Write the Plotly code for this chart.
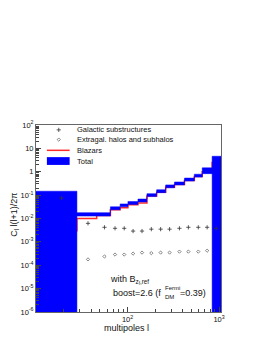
import plotly.graph_objects as go

# ---- data ----
ell_edges = [10, 28, 46, 65, 83, 101, 130, 163, 208, 261, 326, 419, 537, 655, 840, 1050]
total_low = [1e-7, 0.0127, 0.0127, 0.0237, 0.0316, 0.0402, 0.051, 0.0866, 0.127, 0.205, 0.274, 0.402, 0.589, 0.83, 1e-7]
total_high = [0.147, 0.0178, 0.0178, 0.0316, 0.042, 0.0536, 0.068, 0.1155, 0.17, 0.274, 0.365, 0.536, 0.785, 1.47, 4.6]
blazars = [0.003, 0.0100, 0.0133, 0.0237, 0.0287, 0.0383, 0.0464, 0.091, 0.133, 0.215, 0.287, 0.42, 0.62, 1.0, 2.5]
blazars_end = 1.2e-4

gal_ell = [19, 37, 56, 73, 92, 115, 144, 182, 230, 288, 369, 462, 593, 741, 929]
gal_cl = [0.075, 0.0062, 0.0042, 0.0038, 0.0038, 0.0029, 0.0029, 0.0035, 0.0035, 0.0035, 0.0038, 0.0042, 0.0042, 0.0042, 0.0038]
exg_ell = [37, 56, 73, 92, 115, 144, 182, 230, 288, 369, 462, 593, 741]
exg_cl = [1.78e-4, 2.37e-4, 2.87e-4, 2.87e-4, 3.16e-4, 3.48e-4, 3.3e-4, 3.48e-4, 3.48e-4, 3.83e-4, 3.83e-4, 3.83e-4, 4.2e-4]

legend_labels = ["Galactic substructures", "Extragal. halos and subhalos", "Blazars", "Total"]
y_tick_vals = [1e2, 1e1, 1, 1e-1, 1e-2, 1e-3, 1e-4, 1e-5, 1e-6]
y_tick_text = ["10<sup>2</sup>", "10", "1", "10<sup>-1</sup>", "10<sup>-2</sup>", "10<sup>-3</sup>",
               "10<sup>-4</sup>", "10<sup>-5</sup>", "10<sup>-6</sup>"]
x_tick_vals = [100, 1000]
x_tick_text = ["10<sup>2</sup>", "10<sup>3</sup>"]

# ---- layout geometry (target pixels; page body adds an 8px offset) ----
OFF = 8
W, H = 266 - OFF, 344 - 2 * OFF
X0, X1, Y0, Y1 = 34, 221, 125, 317          # plot area in target pixels
PW, PH = X1 - X0, Y1 - Y0
ML, MT = X0 - OFF, Y0 - OFF
MR, MB = W - ML - PW, H - MT - PH
FONT = "Liberation Sans, Arial, sans-serif"
TXT = "#111111"


def px(x):
    return (x - X0) / PW


def py(y):
    return (Y1 - y) / PH


fig = go.Figure()

# Blazars step line
bx = list(ell_edges)
by = list(blazars) + [blazars_end]
fig.add_trace(go.Scatter(x=bx, y=by, mode="lines", line=dict(color="#ff2a2a", width=1.5, shape="hv"),
                         showlegend=False, hoverinfo="skip"))

# Total band as polygon
tx, ty = [], []
for i in range(len(total_high)):
    tx += [ell_edges[i], ell_edges[i + 1]]
    ty += [total_high[i], total_high[i]]
for i in reversed(range(len(total_low))):
    tx += [ell_edges[i + 1], ell_edges[i]]
    ty += [total_low[i], total_low[i]]
fig.add_trace(go.Scatter(x=tx, y=ty, mode="lines", fill="toself", fillcolor="#0000ff",
                         line=dict(color="#0000ff", width=0.5), showlegend=False, hoverinfo="skip"))

# markers
GAL_MK = dict(symbol="cross-thin", size=3, line=dict(color="#333333", width=0.8))
EXG_MK = dict(symbol="diamond-open", size=2.5, color="#555555", line=dict(width=0.7))
fig.add_trace(go.Scatter(x=gal_ell, y=gal_cl, mode="markers", marker=GAL_MK, showlegend=False))
fig.add_trace(go.Scatter(x=exg_ell, y=exg_cl, mode="markers", marker=EXG_MK, showlegend=False))

# manual legend markers on overlay axes
fig.add_trace(go.Scatter(x=[px(57)], y=[py(130)], xaxis="x2", yaxis="y2", mode="markers",
                         marker=GAL_MK, showlegend=False))
fig.add_trace(go.Scatter(x=[px(57)], y=[py(140)], xaxis="x2", yaxis="y2", mode="markers",
                         marker=EXG_MK, showlegend=False))

shapes = [
    dict(type="line", xref="paper", yref="paper", x0=px(45), x1=px(68), y0=py(151), y1=py(151),
         line=dict(color="#ff2a2a", width=1.5)),
    dict(type="rect", xref="paper", yref="paper", x0=px(45), x1=px(68), y0=py(166), y1=py(158),
         fillcolor="#0000ff", line=dict(width=0)),
]

annotations = []
for lab, yy in zip(legend_labels, [130, 140, 151, 162]):
    annotations.append(dict(text=lab, x=px(73), y=py(yy), xref="paper", yref="paper", xanchor="left",
                            yanchor="middle", showarrow=False, font=dict(family=FONT, size=7.5, color=TXT)))

annotations += [
    dict(text="with B<sub>z<sub>f</sub>,ref</sub>", x=px(107), y=py(284), xref="paper", yref="paper",
         xanchor="left", yanchor="middle", showarrow=False, font=dict(family=FONT, size=9, color=TXT)),
    dict(text="boost=2.6 (f", x=px(162), y=py(297), xref="paper", yref="paper",
         xanchor="right", yanchor="middle", showarrow=False, font=dict(family=FONT, size=9, color=TXT)),
    dict(text="Fermi", x=px(162.5), y=py(292), xref="paper", yref="paper",
         xanchor="left", yanchor="middle", showarrow=False, font=dict(family=FONT, size=6, color=TXT)),
    dict(text="DM", x=px(162.5), y=py(302), xref="paper", yref="paper",
         xanchor="left", yanchor="middle", showarrow=False, font=dict(family=FONT, size=6, color=TXT)),
    dict(text="=0.39)", x=px(178), y=py(297), xref="paper", yref="paper",
         xanchor="left", yanchor="middle", showarrow=False, font=dict(family=FONT, size=9, color=TXT)),
    dict(text="multipoles l", x=px(125), y=py(333), xref="paper", yref="paper",
         xanchor="center", yanchor="middle", showarrow=False, font=dict(family=FONT, size=9, color=TXT)),
    dict(text="C<sub>l</sub> l(l+1)/2π", x=px(12), y=py(217), xref="paper", yref="paper",
         xanchor="center", yanchor="middle", textangle=-90, showarrow=False,
         font=dict(family=FONT, size=9, color=TXT)),
]

x_minor = [m * 10 ** k for k in (1, 2) for m in range(2, 10)]
y_minor = [m * 10.0 ** k for k in range(-6, 2) for m in range(2, 10)]

fig.update_layout(
    width=W, height=H,
    margin=dict(l=ML, r=MR, t=MT, b=MB, pad=0),
    paper_bgcolor="white", plot_bgcolor="white",
    showlegend=False,
    font=dict(family=FONT, size=7.5, color=TXT),
    xaxis=dict(type="log", range=[1, 3.0212], tickmode="array", tickvals=x_tick_vals, ticktext=x_tick_text,
               ticks="inside", ticklen=5, tickcolor="#444", showgrid=False, zeroline=False,
               showline=True, linecolor="#666", linewidth=1, mirror=True,
               tickfont=dict(family=FONT, size=7.5, color=TXT),
               minor=dict(tickmode="array", tickvals=x_minor, ticks="inside", ticklen=3, tickcolor="#444",
                          showgrid=False)),
    yaxis=dict(type="log", range=[-6, 2], tickmode="array", tickvals=y_tick_vals, ticktext=y_tick_text,
               ticks="inside", ticklen=5, tickcolor="#444", showgrid=False, zeroline=False,
               showline=True, linecolor="#666", linewidth=1, mirror=True,
               tickfont=dict(family=FONT, size=7.5, color=TXT),
               minor=dict(tickmode="array", tickvals=y_minor, ticks="inside", ticklen=3, tickcolor="#444",
                          showgrid=False)),
    xaxis2=dict(overlaying="x", range=[0, 1], visible=False, fixedrange=True),
    yaxis2=dict(overlaying="y", range=[0, 1], visible=False, fixedrange=True),
    shapes=shapes,
    annotations=annotations,
)

fig.write_html("out.html")
